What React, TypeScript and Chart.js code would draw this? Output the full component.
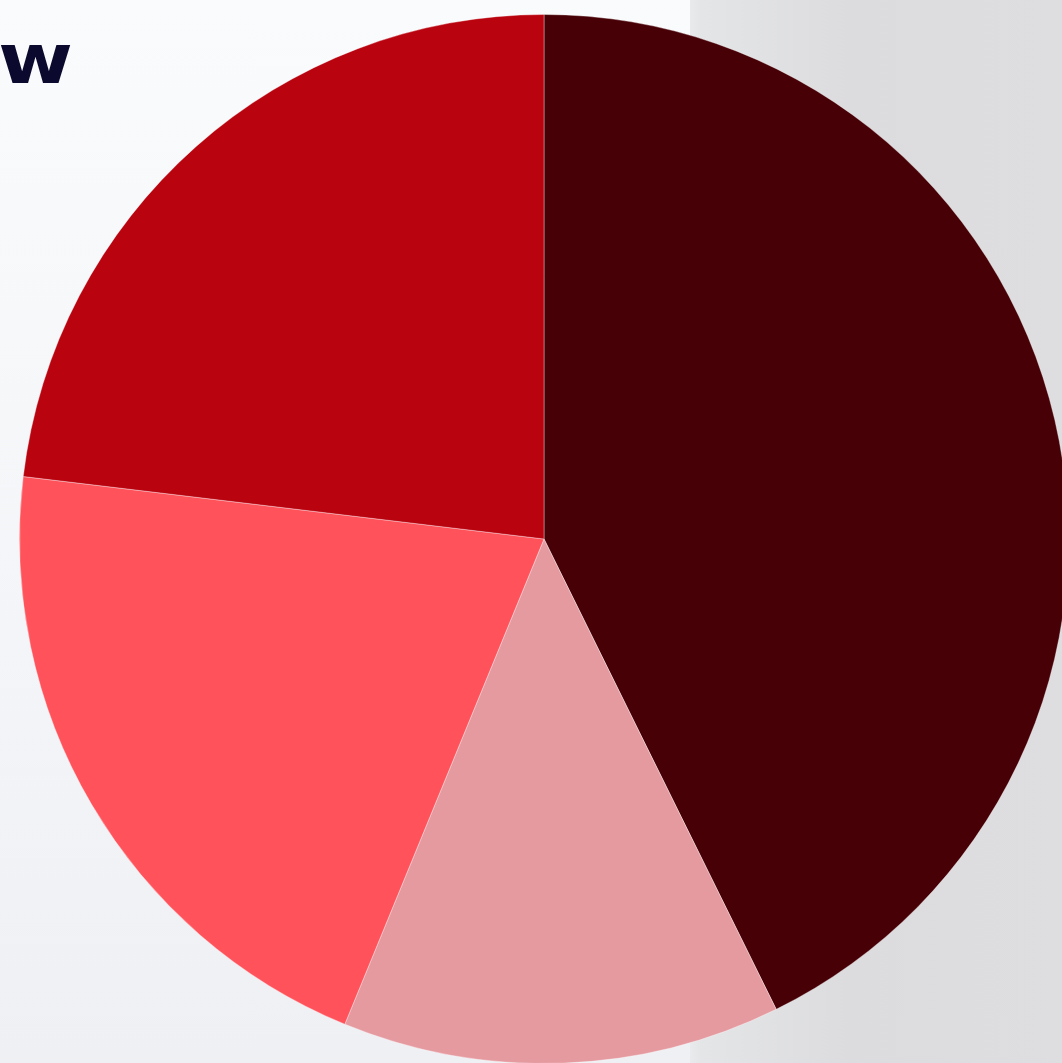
import React, { useEffect, useRef } from "react";
import { Chart, registerables } from "chart.js";

Chart.register(...registerables);

const categories = ["Segment A", "Segment B", "Segment C", "Segment D"];
const values = [42.7, 13.5, 20.7, 23.1];
const colors = ["#470006", "#e59aa0", "#ff525b", "#b90410"];
const titleText = "w";

export default function App() {
  const ref = useRef<HTMLCanvasElement | null>(null);

  useEffect(() => {
    document.body.style.margin = "0";
    const canvas = ref.current;
    if (!canvas) return;
    const chart = new Chart(canvas, {
      type: "pie",
      data: {
        labels: categories,
        datasets: [
          {
            data: values,
            backgroundColor: colors,
            borderColor: "rgba(255,255,255,0.35)",
            borderWidth: 1,
          },
        ],
      },
      options: {
        animation: false,
        responsive: false,
        maintainAspectRatio: false,
        layout: { padding: 0 },
        plugins: {
          legend: { display: false },
          tooltip: { enabled: false },
          title: { display: false },
        },
      },
    });
    return () => chart.destroy();
  }, []);

  return (
    <div
      style={{
        position: "fixed",
        left: 0,
        top: 0,
        width: 1062,
        height: 1063,
        overflow: "hidden",
        background:
          "linear-gradient(to right, #f8f9fb 0%, #f3f4f7 63%, #e4e5e7 66%, #dcdcde 80%, #dedee0 100%)",
      }}
    >
      <div
        style={{
          position: "absolute",
          left: 0,
          top: 0,
          width: 690,
          height: 1063,
          background: "linear-gradient(to bottom, #fafbfc 0%, #f4f5f8 60%, #eef0f3 100%)",
        }}
      />
      <div
        style={{
          position: "absolute",
          left: -2,
          top: 15,
          fontFamily: "'DejaVu Sans', sans-serif",
          fontWeight: 700,
          fontSize: 70,
          lineHeight: "88px",
          color: "#0b0a2e",
          transform: "scaleX(1.16)",
          transformOrigin: "left top",
        }}
      >
        {titleText}
      </div>
      <canvas
        ref={ref}
        width={1050}
        height={1050}
        style={{ position: "absolute", left: 19, top: 14, width: 1050, height: 1050 }}
      />
    </div>
  );
}
